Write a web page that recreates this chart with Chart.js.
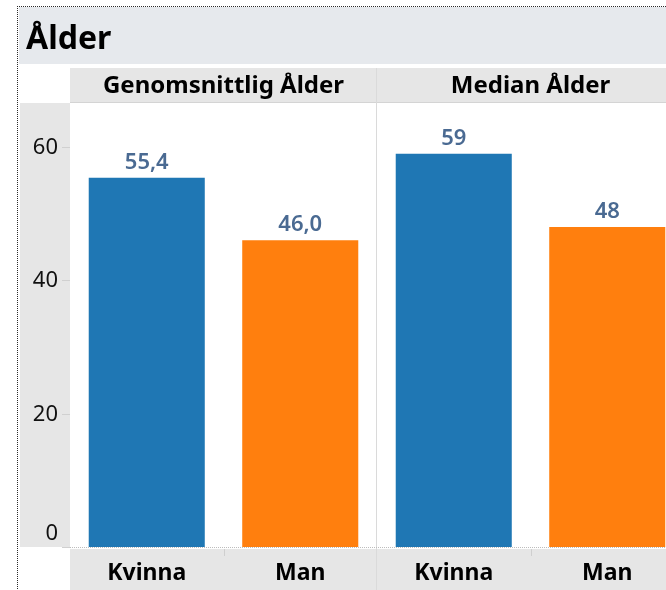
<!DOCTYPE html>
<html>
<head>
<meta charset="utf-8">
<script src="https://cdn.jsdelivr.net/npm/chart.js@4"></script>
<style>
    html, body { margin: 0; padding: 0; background: #fff; overflow: hidden; }
    #wrap { width: 700px; height: 590px; }
</style>
</head>
<body>
<div id="wrap"><canvas id="ageChart" width="700" height="590"></canvas></div>
<script>
const chartTitle = "Ålder";
const measures = ["Genomsnittlig Ålder", "Median Ålder"];
const categories = ["Kvinna", "Man"];
const avgAge = [55.4, 46.0];
const medianAge = [59, 48];
const measureDecimals = [1, 0];
const yTicks = [0, 20, 40, 60];
const barColors = ["#1f77b4", "#ff7f0e"];

const FONT = "'Noto Sans', 'Open Sans', sans-serif";
const seriesByMeasure = [avgAge, medianAge];

// one flat x axis: measure panel x gender
const labels = [];
const values = [];
const colors = [];
const valueText = [];
measures.forEach((m, mi) => {
    categories.forEach((c, ci) => {
        labels.push(c);
        values.push(seriesByMeasure[mi][ci]);
        colors.push(barColors[ci]);
        valueText.push(seriesByMeasure[mi][ci].toFixed(measureDecimals[mi]).replace(".", ","));
    });
});

const tableauLook = {
    id: "tableauLook",
    beforeDraw(chart) {
        const ctx = chart.ctx;
        const area = chart.chartArea;
        const W = chart.width, H = chart.height;
        ctx.save();
        ctx.fillStyle = "#ffffff";
        ctx.fillRect(0, 0, W, H);

        // title band
        ctx.fillStyle = "#e6e9ed";
        ctx.fillRect(19, 7, W - 19, 57);
        ctx.fillStyle = "#000";
        ctx.font = `bold 32px ${FONT}`;
        ctx.textAlign = "left";
        ctx.textBaseline = "middle";
        ctx.fillText(chartTitle, 26, 40);

        // column header band
        ctx.fillStyle = "#e6e6e6";
        ctx.fillRect(area.left, 68, W - area.left, area.top - 68);
        ctx.fillStyle = "#d4d4d4";
        ctx.fillRect(area.left, area.top - 1, W - area.left, 1);

        // y axis band
        ctx.fillStyle = "#e6e6e6";
        ctx.fillRect(20, area.top, area.left - 20, area.bottom - area.top);

        // bottom header band
        ctx.fillRect(area.left, area.bottom + 2, W - area.left, H - area.bottom - 2);

        // dotted outer border, drawn dot by dot so it stays crisp
        ctx.fillStyle = "#2a2a2a";
        for (let x = 17; x < W; x += 2) ctx.fillRect(x, 6, 1, 1);
        for (let y = 6; y < H; y += 2) ctx.fillRect(17, y, 1, 1);
        ctx.restore();
    },
    afterDatasetsDraw(chart) {
        const ctx = chart.ctx;
        const area = chart.chartArea;
        const xs = chart.scales.x;
        const ys = chart.scales.y;
        const W = chart.width, H = chart.height;
        ctx.save();

        // panel separators
        ctx.fillStyle = "#dadada";
        for (let mi = 1; mi < measures.length; mi++) {
            const i = mi * categories.length;
            const x = Math.round((xs.getPixelForValue(i - 1) + xs.getPixelForValue(i)) / 2);
            ctx.fillRect(x - 1, 68, 1, H - 68);
        }

        // bottom dotted baseline
        ctx.fillStyle = "#bdbdbd";
        const yZero = Math.round(ys.getPixelForValue(0));
        for (let x = 62; x < W; x += 2) ctx.fillRect(x, yZero, 1, 1);

        // small separators inside bottom band
        ctx.fillStyle = "#cfcfcf";
        measures.forEach((m, mi) => {
            for (let ci = 1; ci < categories.length; ci++) {
                const i = mi * categories.length + ci;
                const x = Math.round((xs.getPixelForValue(i - 1) + xs.getPixelForValue(i)) / 2);
                ctx.fillRect(x, area.bottom + 2, 1, 7);
            }
        });

        // y ticks + labels
        ctx.font = `22px ${FONT}`;
        ctx.textAlign = "right";
        yTicks.forEach(v => {
            const y = Math.round(ys.getPixelForValue(v));
            ctx.fillStyle = "#d0d0d0";
            ctx.fillRect(62, y, 8, 1);
            ctx.fillStyle = "#111";
            if (v === 0) {
                ctx.textBaseline = "alphabetic";
                ctx.fillText(String(v), 58, y - 7);
            } else {
                ctx.textBaseline = "middle";
                ctx.fillText(String(v), 58, y + 1);
            }
        });

        // headers
        ctx.fillStyle = "#000";
        ctx.font = `bold 24px ${FONT}`;
        ctx.textAlign = "center";
        ctx.textBaseline = "middle";
        measures.forEach((m, mi) => {
            const a = xs.getPixelForValue(mi * categories.length);
            const b = xs.getPixelForValue(mi * categories.length + categories.length - 1);
            ctx.fillText(m, (a + b) / 2, 86);
        });

        // category labels
        ctx.font = `bold 23px ${FONT}`;
        labels.forEach((lab, i) => {
            ctx.fillText(lab, xs.getPixelForValue(i), 573);
        });

        // value labels
        ctx.fillStyle = "#4a6a92";
        ctx.font = `600 22px ${FONT}`;
        ctx.textBaseline = "alphabetic";
        const meta = chart.getDatasetMeta(0);
        meta.data.forEach((bar, i) => {
            ctx.fillText(valueText[i], bar.x, bar.y - 9);
        });

        ctx.restore();
    }
};

new Chart(document.getElementById("ageChart").getContext("2d"), {
    type: "bar",
    data: {
        labels: labels,
        datasets: [{
            data: values,
            backgroundColor: colors,
            borderWidth: 0,
            categoryPercentage: 1,
            barPercentage: 0.756
        }]
    },
    options: {
        responsive: false,
        animation: false,
        layout: { padding: { left: 70, top: 103, right: 16, bottom: 43 } },
        plugins: { legend: { display: false }, title: { display: false }, tooltip: { enabled: false } },
        scales: {
            x: { display: false, grid: { display: false } },
            y: { display: false, min: 0, max: 66.6, grid: { display: false } }
        }
    },
    plugins: [tableauLook]
});
</script>
</body>
</html>
